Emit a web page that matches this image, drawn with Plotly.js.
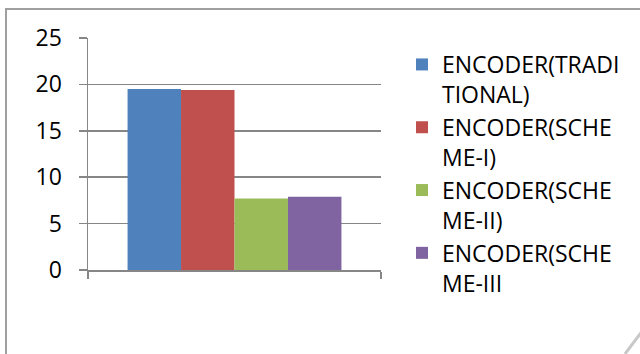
<!DOCTYPE html>
<html>
<head>
<meta charset="utf-8">
<script src="https://cdn.plot.ly/plotly-3.0.1.min.js"></script>
<style>html,body{margin:0;padding:0;background:#fff;}#chart{width:640px;height:354px;}</style>
</head>
<body>
<div id="chart"></div>
<script>
const categories = ["ENCODER"];
const seriesNames = ["ENCODER(TRADI<br>TIONAL)", "ENCODER(SCHE<br>ME-I)", "ENCODER(SCHE<br>ME-II)", "ENCODER(SCHE<br>ME-III"];
const seriesValues = [[19.5], [19.4], [7.7], [7.9]];
const seriesColors = ["#4F81BD", "#C0504D", "#9BBB59", "#8064A2"];
const yTicks = [0, 5, 10, 15, 20, 25];

const traces = seriesNames.map((n, i) => ({
  type: "bar",
  name: n,
  x: categories,
  y: seriesValues[i],
  marker: {color: seriesColors[i], line: {width: 0}},
  hoverinfo: "none"
}));

const L = 88, R = 381, T = 38, B = 270;
const W = R - L, H = B - T;
const px = v => (v - L) / W;
const py = v => (B - v) / H;

const layout = {
  width: 640, height: 354,
  margin: {l: L, r: 640 - R, t: T, b: 354 - B, pad: 0, autoexpand: false},
  paper_bgcolor: "#fff", plot_bgcolor: "#fff",
  font: {family: "Open Sans, sans-serif", color: "#000"},
  barmode: "group",
  bargap: 0.27,
  bargroupgap: 0,
  showlegend: true,
  legend: {
    xref: "container", yref: "container",
    x: 402 / 640, y: 1 - 43 / 354, xanchor: "left", yanchor: "top",
    font: {size: 23, family: "Open Sans, sans-serif", color: "#000"},
    valign: "top", bgcolor: "rgba(0,0,0,0)", tracegroupgap: 0,
    maxheight: 1000
  },
  xaxis: {
    type: "category", range: [-0.5, 0.5],
    showticklabels: false, ticks: "outside", tickson: "boundaries",
    ticklen: 7, tickcolor: "#868686", tickwidth: 1.5,
    showline: true, linecolor: "#868686", linewidth: 1.5,
    showgrid: false, zeroline: false, fixedrange: true, automargin: false
  },
  yaxis: {
    range: [0, 25], tickvals: yTicks, ticktext: yTicks.map(String),
    ticks: "outside", ticklen: 8, tickcolor: "#868686", tickwidth: 1.5,
    showline: true, linecolor: "#868686", linewidth: 1.5,
    showgrid: true, gridcolor: "#868686", gridwidth: 1.5,
    zeroline: false, ticklabelstandoff: 12,
    tickfont: {size: 23, family: "Open Sans, sans-serif", color: "#000"},
    fixedrange: true, automargin: false
  },
  shapes: [
    {type: "rect", xref: "paper", yref: "paper", x0: px(6), x1: px(700), y0: py(400), y1: py(9),
     line: {color: "#a0a0a0", width: 2}, fillcolor: "rgba(0,0,0,0)", layer: "below"},
    {type: "line", xref: "paper", yref: "paper", x0: px(625), y0: py(354), x1: px(646), y1: py(326),
     line: {color: "#c8c8c8", width: 3}}
  ]
};

Plotly.newPlot("chart", traces, layout, {staticPlot: true, displayModeBar: false});
</script>
</body>
</html>
